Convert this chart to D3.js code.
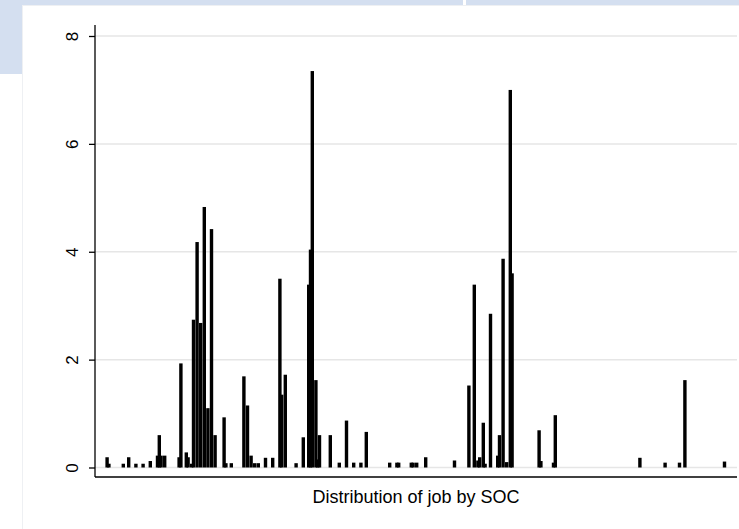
<!DOCTYPE html>
<html>
<head>
<meta charset="utf-8">
<script src="https://cdn.jsdelivr.net/npm/d3@7"></script>
<style>
  html, body { margin: 0; padding: 0; background: #ffffff; }
  svg { display: block; }
  text { font-family: "Liberation Sans", Arial, Helvetica, sans-serif; }
</style>
</head>
<body>
<svg id="chart" width="739" height="529"></svg>
<script>
// Occupation slots along the horizontal axis (category order) and share of jobs (%)
const socSlot = [3, 4, 12, 15, 19, 23, 27, 31, 32, 33, 35, 43, 44, 47, 48, 50, 51, 53, 55, 57, 59, 61, 63, 68, 69, 72,
  79, 81, 83, 85, 87, 91, 95, 99, 100, 102, 108, 112, 115, 116, 117, 119, 120, 121, 127, 132, 136, 140, 144, 147,
  160, 164, 165, 172, 173, 175, 180, 196, 204, 207, 209, 210, 212, 213, 216, 220, 221, 223, 225, 227, 228,
  243, 244, 251, 252, 299, 313, 321, 324, 346];
const socShare = [0.19, 0.07, 0.07, 0.19, 0.07, 0.07, 0.12, 0.22, 0.6, 0.22, 0.22, 0.19, 1.93, 0.28, 0.19, 0.07, 2.74, 4.18, 2.68, 4.83, 1.1, 4.42, 0.6, 0.93, 0.08, 0.08,
  1.69, 1.15, 0.22, 0.08, 0.08, 0.18, 0.18, 3.5, 1.35, 1.72, 0.08, 0.56, 3.39, 4.04, 7.35, 1.62, 0.15, 0.6, 0.6, 0.09, 0.87, 0.09, 0.09, 0.66,
  0.09, 0.09, 0.09, 0.09, 0.09, 0.09, 0.19, 0.13, 1.52, 3.39, 0.13, 0.19, 0.83, 0.07, 2.85, 0.22, 0.6, 3.87, 0.1, 7.0, 3.6,
  0.69, 0.12, 0.09, 0.97, 0.18, 0.09, 0.09, 1.62, 0.11];
const slotCount = 350;
const yTicks = [0, 2, 4, 6, 8];
const xTitle = "Distribution of job by SOC";

const bars = socSlot.map((s, i) => ({ slot: s, value: socShare[i] }));

const svg = d3.select("#chart");

// page backdrop
svg.append("rect").attr("x", 0).attr("y", 0).attr("width", 739).attr("height", 529).attr("fill", "#ffffff");
svg.append("rect").attr("x", 0).attr("y", 0).attr("width", 463).attr("height", 5).attr("fill", "#d4dff0");
svg.append("rect").attr("x", 466).attr("y", 0).attr("width", 273).attr("height", 5).attr("fill", "#d4dff0");
svg.append("rect").attr("x", 0).attr("y", 0).attr("width", 22).attr("height", 74).attr("fill", "#d4dff0");
svg.append("line").attr("x1", 22).attr("x2", 739).attr("y1", 5.5).attr("y2", 5.5).attr("stroke", "#eef0f3").attr("stroke-width", 1);
svg.append("line").attr("x1", 22.5).attr("x2", 22.5).attr("y1", 5).attr("y2", 529).attr("stroke", "#eef0f3").attr("stroke-width", 1);

const x = d3.scaleLinear().domain([0, slotCount]).range([100, 730]);
const y = d3.scaleLinear().domain([0, 8]).range([467.5, 36]);

const axisX = 95, axisBottom = 477, plotRight = 737;

// horizontal grid lines
svg.append("g").selectAll("line").data(yTicks).join("line")
  .attr("x1", axisX).attr("x2", plotRight)
  .attr("y1", d => y(d)).attr("y2", d => y(d))
  .attr("stroke", "#e6e6e6").attr("stroke-width", 1.5);

// bars
const barW = 3.4;
svg.append("g").selectAll("rect").data(bars).join("rect")
  .attr("x", d => x(d.slot))
  .attr("width", barW)
  .attr("y", d => y(d.value))
  .attr("height", d => y(0) - y(d.value))
  .attr("fill", "#000000");

// y axis with rotated tick labels
const labelX = -23;
const yAxis = d3.axisLeft(y).tickValues(yTicks).tickSize(6).tickPadding(10).tickFormat(d3.format("d"));
const gy = svg.append("g").attr("transform", `translate(${axisX},0)`).call(yAxis);
gy.attr("font-size", null).attr("font-family", null);
gy.select(".domain").remove();
gy.selectAll(".tick line").attr("stroke", "#000").attr("stroke-width", 1.3);
gy.selectAll(".tick text")
  .style("font-size", "17px")
  .attr("fill", "#000")
  .attr("x", labelX)
  .attr("y", 0)
  .attr("dy", null)
  .attr("text-anchor", "middle")
  .attr("dominant-baseline", "central")
  .attr("transform", `rotate(-90, ${labelX}, 0)`);

// axis lines
svg.append("line").attr("x1", axisX).attr("x2", axisX).attr("y1", 25).attr("y2", axisBottom)
  .attr("stroke", "#000").attr("stroke-width", 1.3);
svg.append("line").attr("x1", axisX).attr("x2", plotRight).attr("y1", axisBottom).attr("y2", axisBottom)
  .attr("stroke", "#000").attr("stroke-width", 1.3);

// axis title
svg.append("text")
  .attr("x", (axisX + plotRight) / 2)
  .attr("y", 503)
  .attr("text-anchor", "middle")
  .style("font-size", "18px")
  .attr("fill", "#000")
  .text(xTitle);
</script>
</body>
</html>
